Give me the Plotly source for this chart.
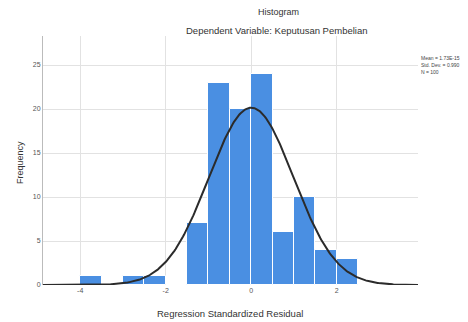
import numpy as np
import plotly.graph_objects as go

# Data
bin_left_edges = [-4.0, -3.0, -2.5, -1.5, -1.0, -0.5, 0.0, 0.5, 1.0, 1.5, 2.0]
frequencies = [1, 1, 1, 7, 23, 20, 24, 6, 10, 4, 3]
bin_width = 0.5
mean_val = 0.0
std_val = 0.99
n_val = 100
x_tick_vals = [-4, -2, 0, 2]
y_tick_vals = [0, 5, 10, 15, 20, 25]
legend_lines = ["Mean = 1.73E-15", "Std. Dev. = 0.990", "N = 100"]

centers = [e + bin_width / 2 for e in bin_left_edges]

x_min, x_max = -4.87, 3.9
xs = np.linspace(x_min, x_max, 400)
ys = n_val * bin_width * np.exp(-0.5 * ((xs - mean_val) / std_val) ** 2) / (std_val * np.sqrt(2 * np.pi))

W, H = 468, 322
pl, pr, pt, pb = 43, 50, 36, 37
pw, ph = W - pl - pr, H - pt - pb

def px(xp):
    return (xp - pl) / pw

def py(yp):
    return (H - pb - yp) / ph

anns = [
    dict(text="Histogram", x=px(278), y=py(12), xref="paper", yref="paper",
         showarrow=False, font=dict(size=9, color="#333"), xanchor="center", yanchor="middle"),
    dict(text="Dependent Variable: Keputusan Pembelian", x=px(277), y=py(31), xref="paper", yref="paper",
         showarrow=False, font=dict(size=9.5, color="#333"), xanchor="center", yanchor="middle"),
    dict(text="Frequency", x=px(20), y=py(163), xref="paper", yref="paper", textangle=-90,
         showarrow=False, font=dict(size=9, color="#333"), xanchor="center", yanchor="middle"),
    dict(text="Regression Standardized Residual", x=px(230), y=py(313), xref="paper", yref="paper",
         showarrow=False, font=dict(size=9.5, color="#333"), xanchor="center", yanchor="middle"),
]
for i, t in enumerate(legend_lines):
    anns.append(dict(text=t, x=px(419), y=py(58 + 7 * i), xref="paper", yref="paper",
                     showarrow=False, font=dict(size=5, color="#444"), xanchor="left", yanchor="middle"))

fig = go.Figure()
fig.add_trace(go.Bar(
    x=centers, y=frequencies, width=[bin_width] * len(centers),
    marker=dict(color="#4a8fe2", line=dict(color="white", width=1)),
    showlegend=False, hoverinfo="skip"
))
fig.add_trace(go.Scatter(
    x=xs, y=ys, mode="lines", line=dict(color="#2b2b2b", width=2),
    showlegend=False, hoverinfo="skip", cliponaxis=False
))

fig.update_layout(
    width=W, height=H,
    margin=dict(l=pl, r=pr, t=pt, b=pb, autoexpand=False),
    plot_bgcolor="white", paper_bgcolor="white",
    font=dict(family="Liberation Sans, Arial, sans-serif", color="#333"),
    bargap=0,
    xaxis=dict(
        range=[x_min, x_max], tickvals=x_tick_vals,
        ticktext=[str(v) for v in x_tick_vals],
        showgrid=True, gridcolor="#e2e2e2", gridwidth=1,
        zeroline=False, showline=False, automargin=False,
        tickfont=dict(size=7, color="#555"),
    ),
    yaxis=dict(
        range=[0, 28.3], tickvals=y_tick_vals,
        showgrid=True, gridcolor="#e2e2e2", gridwidth=1,
        zeroline=False, showline=True, linecolor="#bbbbbb", linewidth=1,
        automargin=False,
        tickfont=dict(size=7, color="#555"),
    ),
    annotations=anns,
)

fig.write_html("out.html", config={"displayModeBar": False},
               post_script="document.body.style.margin='0';document.body.style.overflow='hidden';")
